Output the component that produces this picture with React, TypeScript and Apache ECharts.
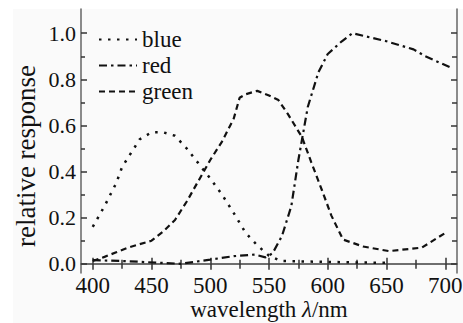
import React, { useEffect, useRef } from "react";
import * as echarts from "echarts";

const blueX = [400, 410, 420, 425, 430, 440, 450, 460, 470, 480, 490, 500, 510, 520, 530, 540, 550, 560, 580, 600, 620, 650];
const blueY = [0.16, 0.25, 0.35, 0.42, 0.46, 0.54, 0.57, 0.57, 0.555, 0.5, 0.435, 0.37, 0.3, 0.22, 0.135, 0.08, 0.035, 0.012, 0.01, 0.008, 0.006, 0.004];

const redX = [400, 430, 458, 475, 500, 520, 538, 547, 553, 561, 569, 575, 583, 592, 600, 612, 621, 650, 673, 683, 705];
const redY = [0.016, 0.011, 0.004, 0.0, 0.018, 0.033, 0.04, 0.028, 0.045, 0.12, 0.25, 0.45, 0.68, 0.83, 0.91, 0.965, 1.0, 0.965, 0.93, 0.9, 0.85];

const greenX = [400, 410, 420, 430, 440, 450, 460, 470, 480, 490, 500, 510, 520, 525, 530, 540, 550, 558, 566, 578, 586, 595, 603, 613, 630, 652, 680, 702];
const greenY = [0.012, 0.03, 0.05, 0.07, 0.085, 0.1, 0.14, 0.19, 0.27, 0.36, 0.45, 0.53, 0.63, 0.72, 0.735, 0.75, 0.73, 0.71, 0.65, 0.55, 0.44, 0.32, 0.21, 0.105, 0.075, 0.055, 0.07, 0.14];

const xMajorTicks = [400, 450, 500, 550, 600, 650, 700];
const xMinorTicks = [425, 475, 525, 575, 625, 675];
const yMajorTicks = [0, 0.2, 0.4, 0.6, 0.8, 1.0];
const yMinorTicks = [0.1, 0.3, 0.5, 0.7, 0.9];

const FONT = "'Liberation Serif', 'Times New Roman', Times, serif";
const INK = "#111";
const AXIS = "#666";

const pairs = (xs: number[], ys: number[]) => xs.map((x, i) => [x, ys[i]]);

export default function App() {
  const ref = useRef<HTMLDivElement>(null);
  useEffect(() => {
    if (!ref.current) return;
    const chart = echarts.init(ref.current, undefined, { renderer: "svg" });
    const gridPos = { left: 81, right: 6, top: 9, bottom: 50, containLabel: false, outerBoundsMode: "none" };
    const xBase = { type: "value", min: 390, max: 710, splitLine: { show: false } };
    const yBase = { type: "value", min: -0.04, max: 1.105, splitLine: { show: false } };
    const mkLine = (name: string, xs: number[], ys: number[], dash: number[], width: number) => ({
      name,
      type: "line",
      xAxisIndex: 0,
      yAxisIndex: 0,
      data: pairs(xs, ys),
      symbol: "none",
      showSymbol: false,
      smooth: false,
      lineStyle: { color: INK, width, type: dash, cap: "butt" },
      itemStyle: { color: INK },
      z: 3,
    });
    const tickStyle = { color: "#333", width: 1.5 };
    chart.setOption({
      animation: false,
      backgroundColor: "#ffffff",
      textStyle: { fontFamily: FONT },
      graphic: [
        {
          type: "rect",
          silent: true,
          z: -10,
          shape: { x: 13, y: 9, width: 450, height: 314 },
          style: { fill: "#fafafa" },
        },
      ],
      grid: [{ ...gridPos }, { ...gridPos }],
      legend: {
        data: ["blue", "red", "green"],
        orient: "vertical",
        left: 93,
        top: 23,
        itemWidth: 38,
        itemHeight: 14,
        itemGap: 3,
        itemStyle: { color: "transparent", borderColor: "transparent", borderWidth: 0, opacity: 0 },
        textStyle: { fontFamily: FONT, fontSize: 23, color: INK },
      },
      xAxis: [
        {
          ...xBase,
          gridIndex: 0,
          position: "bottom",
          name: "wavelength {i|λ}/nm",
          nameLocation: "middle",
          nameGap: 25,
          nameMoveOverlap: false,
          nameTextStyle: {
            fontFamily: FONT,
            fontSize: 23,
            color: INK,
            rich: { i: { fontFamily: FONT, fontSize: 23, fontStyle: "italic", color: INK } },
          },
          axisLine: { show: true, lineStyle: { color: AXIS, width: 1.5 } },
          axisTick: { show: true, inside: true, length: 6, customValues: xMajorTicks, lineStyle: tickStyle },
          axisLabel: { show: true, customValues: xMajorTicks, margin: 1, fontFamily: FONT, fontSize: 23, color: INK },
        },
        {
          ...xBase,
          gridIndex: 0,
          position: "top",
          axisLine: { show: true, lineStyle: { color: AXIS, width: 1.5 } },
          axisTick: { show: true, inside: true, length: 6, customValues: xMajorTicks, lineStyle: tickStyle },
          axisLabel: { show: false },
        },
        {
          ...xBase,
          gridIndex: 1,
          position: "bottom",
          axisLine: { show: false },
          axisTick: { show: true, inside: true, length: 4, customValues: xMinorTicks, lineStyle: tickStyle },
          axisLabel: { show: false },
        },
        {
          ...xBase,
          gridIndex: 1,
          position: "top",
          axisLine: { show: false },
          axisTick: { show: true, inside: true, length: 5, customValues: xMinorTicks, lineStyle: tickStyle },
          axisLabel: { show: false },
        },
      ],
      yAxis: [
        {
          ...yBase,
          gridIndex: 0,
          position: "left",
          name: "relative response",
          nameLocation: "middle",
          nameGap: 42,
          nameMoveOverlap: false,
          nameTextStyle: { fontFamily: FONT, fontSize: 27, color: INK, padding: [0, 30, 0, 0] },
          axisLine: { show: true, lineStyle: { color: AXIS, width: 1.5 } },
          axisTick: { show: true, inside: true, length: 6, customValues: yMajorTicks, lineStyle: tickStyle },
          axisLabel: {
            show: true,
            customValues: yMajorTicks,
            margin: 5,
            fontFamily: FONT,
            fontSize: 22,
            color: INK,
            formatter: (v: number) => v.toFixed(1),
          },
        },
        {
          ...yBase,
          gridIndex: 0,
          position: "right",
          axisLine: { show: true, lineStyle: { color: AXIS, width: 1.5 } },
          axisTick: { show: true, inside: true, length: 6, customValues: yMajorTicks, lineStyle: tickStyle },
          axisLabel: { show: false },
        },
        {
          ...yBase,
          gridIndex: 1,
          position: "left",
          axisLine: { show: false },
          axisTick: { show: true, inside: true, length: 4, customValues: yMinorTicks, lineStyle: tickStyle },
          axisLabel: { show: false },
        },
        {
          ...yBase,
          gridIndex: 1,
          position: "right",
          axisLine: { show: false },
          axisTick: { show: true, inside: true, length: 5, customValues: yMinorTicks, lineStyle: tickStyle },
          axisLabel: { show: false },
        },
      ],
      series: [
        mkLine("blue", blueX, blueY, [2.5, 6.5], 2.5),
        mkLine("red", redX, redY, [8, 4, 2.5, 4], 2.2),
        mkLine("green", greenX, greenY, [6, 4], 2.2),
      ],
    });
    return () => chart.dispose();
  }, []);
  return (
    <div
      ref={ref}
      style={{ position: "absolute", left: 0, top: 0, width: 463, height: 323 }}
    />
  );
}
